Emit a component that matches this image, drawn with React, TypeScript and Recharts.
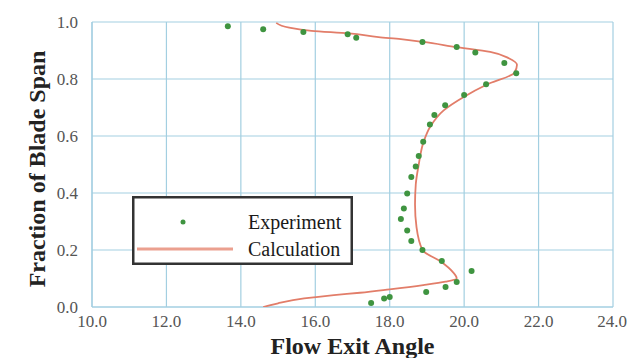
import React from 'react';
import { ScatterChart, Scatter, XAxis, YAxis, CartesianGrid, Legend } from 'recharts';

const xTicks = [10, 12, 14, 16, 18, 20, 22, 24];
const yTicks = [0, 0.2, 0.4, 0.6, 0.8, 1.0];
const xMinorTicks = [10, 10.5, 11, 11.5, 12, 12.5, 13, 13.5, 14, 14.5, 15, 15.5, 16, 16.5, 17, 17.5, 18, 18.5, 19, 19.5, 20, 20.5, 21, 21.5, 22, 22.5, 23, 23.5, 24];
const yMinorTicks = [0, 0.05, 0.1, 0.15, 0.2, 0.25, 0.3, 0.35, 0.4, 0.45, 0.5, 0.55, 0.6, 0.65, 0.7, 0.75, 0.8, 0.85, 0.9, 0.95, 1.0];

// Experiment (flow exit angle, fraction of blade span)
const expAngle = [13.65, 14.6, 15.68, 16.87, 17.1, 18.88, 19.8, 20.3, 21.08, 21.4, 20.59, 20.0, 19.49, 19.2, 19.08, 18.9, 18.78, 18.7, 18.58, 18.47, 18.38, 18.3, 18.47, 18.58, 18.88, 19.4, 20.2, 19.8, 19.5, 18.98, 18.0, 17.85, 17.5];
const expSpan = [0.985, 0.975, 0.965, 0.957, 0.945, 0.93, 0.912, 0.893, 0.856, 0.82, 0.782, 0.744, 0.708, 0.674, 0.64, 0.58, 0.53, 0.493, 0.456, 0.398, 0.346, 0.309, 0.268, 0.232, 0.2, 0.161, 0.126, 0.088, 0.07, 0.053, 0.035, 0.03, 0.014];

// Calculation curve, from blade tip down to hub
const calcAngle = [14.95, 15.3, 15.9, 16.9, 17.7, 18.3, 18.9, 19.8, 20.7, 21.2, 21.42, 21.35, 20.6, 20.0, 19.45, 19.1, 18.9, 18.78, 18.7, 18.68, 18.72, 18.88, 19.39, 19.68, 19.8, 19.5, 18.9, 18.0, 17.2, 16.5, 15.7, 15.0, 14.6];
const calcSpan = [0.997, 0.98, 0.969, 0.96, 0.947, 0.94, 0.93, 0.912, 0.895, 0.873, 0.85, 0.822, 0.78, 0.738, 0.69, 0.635, 0.575, 0.5, 0.43, 0.36, 0.28, 0.2, 0.158, 0.125, 0.1, 0.089, 0.077, 0.062, 0.05, 0.042, 0.03, 0.013, 0.0];

const expData = expAngle.map((a, i) => ({ angle: a, span: expSpan[i] }));
const calcData = calcAngle.map((a, i) => ({ angle: a, span: calcSpan[i] }));

const GRID = '#a3cfe1';
const GREEN = '#3f9440';
const SALMON = '#e27d69';
const FONT = 'Liberation Serif';

const LegendBox = () => (
  <svg width={221} height={69} style={{ display: 'block' }}>
    <rect x={1.25} y={1.25} width={218.5} height={66.5} fill="#fff" stroke="#333" strokeWidth={2.5} />
    <circle cx={51} cy={26} r={2.5} fill={GREEN} />
    <line x1={5} x2={101} y1={53} y2={53} stroke="#eba08f" strokeWidth={3} />
    <text x={116} y={26} dy="0.34em" style={{ fontFamily: FONT, fontSize: 20 }} fill="#1a1a1a">Experiment</text>
    <text x={116} y={53} dy="0.34em" style={{ fontFamily: FONT, fontSize: 20 }} fill="#1a1a1a">Calculation</text>
  </svg>
);

const XLabel = (props: any) => {
  const vb = props.viewBox || { x: 92, y: 307, width: 521 };
  return (
    <text x={vb.x + vb.width / 2} y={354} textAnchor="middle" style={{ fontFamily: FONT, fontSize: 24, fontWeight: 'bold' }} fill="#222">
      Flow Exit Angle
    </text>
  );
};

const YLabel = () => {
  const cx = 45;
  const cy = 169;
  return (
    <text x={cx} y={cy} transform={`rotate(-90, ${cx}, ${cy})`} textAnchor="middle" style={{ fontFamily: FONT, fontSize: 24, fontWeight: 'bold' }} fill="#222">
      Fraction of Blade Span
    </text>
  );
};

const Dot = (props: any) => <circle cx={props.cx} cy={props.cy} r={3} fill={GREEN} />;
const NoDot = () => <g />;

const tickStyle = { fontSize: 17, fill: '#555', style: { fontFamily: FONT, fontSize: 17 } };

export default function App() {
  return (
    <div style={{ position: 'absolute', left: 0, top: 0, background: '#fff', fontFamily: FONT }}>
      <ScatterChart width={627} height={358} margin={{ top: 22, right: 14, left: 0, bottom: 0 }} style={{ fontFamily: FONT }}>
        <CartesianGrid stroke={GRID} strokeWidth={1.2} />
        <XAxis
          type="number"
          dataKey="angle"
          domain={[10, 24]}
          ticks={xTicks}
          allowDataOverflow
          height={51}
          tickFormatter={(v: number) => v.toFixed(1)}
          tick={tickStyle}
          tickLine={false}
          tickSize={0}
          tickMargin={8}
          axisLine={{ stroke: GRID, strokeWidth: 1.2 }}
          label={<XLabel />}
        />
        <XAxis
          xAxisId="minor"
          type="number"
          dataKey="angle"
          domain={[10, 24]}
          ticks={xMinorTicks}
          allowDataOverflow
          mirror
          tick={false}
          tickLine={{ stroke: GRID, strokeWidth: 1 }}
          tickSize={3}
          axisLine={false}
        />
        <YAxis
          type="number"
          dataKey="span"
          domain={[0, 1]}
          ticks={yTicks}
          allowDataOverflow
          width={92}
          tickFormatter={(v: number) => v.toFixed(1)}
          tick={tickStyle}
          tickLine={false}
          tickSize={0}
          tickMargin={14}
          axisLine={{ stroke: GRID, strokeWidth: 1.2 }}
          label={<YLabel />}
        />
        <YAxis
          yAxisId="minor"
          type="number"
          dataKey="span"
          domain={[0, 1]}
          ticks={yMinorTicks}
          allowDataOverflow
          mirror
          tick={false}
          tickLine={{ stroke: GRID, strokeWidth: 1 }}
          tickSize={3}
          axisLine={false}
        />
        <Legend
          layout="vertical"
          align="center"
          verticalAlign="middle"
          wrapperStyle={{ left: 132, top: 196, width: 221, height: 69 }}
          content={() => <LegendBox />}
        />
        <Scatter
          name="Calculation"
          data={calcData}
          fill={SALMON}
          line={{ stroke: SALMON, strokeWidth: 1.8 }}
          lineJointType="monotoneY"
          shape={<NoDot />}
          isAnimationActive={false}
        />
        <Scatter
          name="Experiment"
          data={expData}
          fill={GREEN}
          shape={<Dot />}
          isAnimationActive={false}
        />
      </ScatterChart>
    </div>
  );
}
